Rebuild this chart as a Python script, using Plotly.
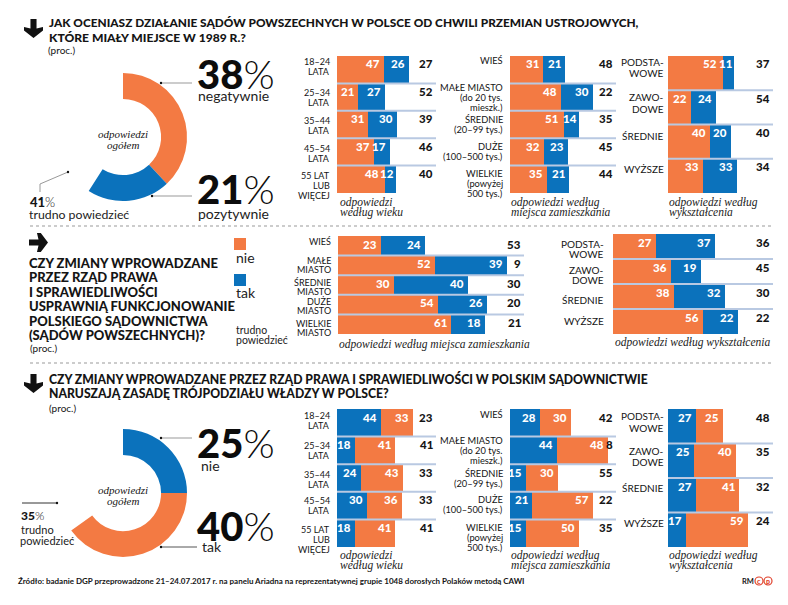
import plotly.graph_objects as go

W, H = 788, 605
ORANGE = "#F37A43"
BLUE = "#0B72BC"
SEP = "#B9C9E2"
INK = "#151515"
SANS = "Lato"
SERIF = "Liberation Serif"

# row labels
age_cats = ["18–24<br>LATA", "25–34<br>LATA", "35–44<br>LATA", "45–54<br>LATA", "55 LAT<br>LUB<br>WIĘCEJ"]
place_cats = ["WIEŚ", "MAŁE MIASTO<br>(do 20 tys.<br>mieszk.)", "ŚREDNIE<br>(20–99 tys.)", "DUŻE<br>(100–500 tys.)", "WIELKIE<br>(powyżej<br>500 tys.)"]
place_short_cats = ["WIEŚ", "MAŁE<br>MIASTO", "ŚREDNIE<br>MIASTO", "DUŻE<br>MIASTO", "WIELKIE<br>MIASTO"]
edu_cats = ["PODSTA-<br>WOWE", "ZAWO-<br>DOWE", "ŚREDNIE", "WYŻSZE"]

# question 1: negatywnie / pozytywnie / trudno powiedzieć
q1_total = [38, 21, 41]
q1_age_neg = [47, 21, 31, 37, 48]
q1_age_pos = [26, 27, 30, 17, 12]
q1_age_rest = [27, 52, 39, 46, 40]
q1_place_neg = [31, 48, 51, 32, 35]
q1_place_pos = [21, 30, 14, 23, 21]
q1_place_rest = [48, 22, 35, 45, 44]
q1_edu_neg = [52, 22, 40, 33]
q1_edu_pos = [11, 24, 20, 33]
q1_edu_rest = [37, 54, 40, 34]

# question 2: nie / tak / trudno powiedzieć
q2_place_no = [23, 52, 30, 54, 61]
q2_place_yes = [24, 39, 40, 26, 18]
q2_place_rest = [53, 9, 30, 20, 21]
q2_edu_no = [27, 36, 38, 56]
q2_edu_yes = [37, 19, 32, 22]
q2_edu_rest = [36, 45, 30, 22]

# question 3: nie / tak / trudno powiedzieć
q3_total = [25, 40, 35]
q3_age_no = [44, 18, 24, 30, 18]
q3_age_yes = [33, 41, 43, 36, 41]
q3_age_rest = [23, 41, 33, 33, 41]
q3_place_no = [28, 44, 15, 21, 15]
q3_place_yes = [30, 48, 30, 57, 50]
q3_place_rest = [42, 8, 55, 22, 35]
q3_edu_no = [27, 25, 27, 17]
q3_edu_yes = [25, 40, 41, 59]
q3_edu_rest = [48, 35, 32, 24]

fig = go.Figure()
annotations = []
shapes = []
layout_axes = {}


def fx(x):
    return x / W


def fy(y):
    return 1 - y / H


def text(x, y, s, size=12, weight=400, color=INK, family=SANS, anchor="left", italic=False):
    annotations.append(dict(
        x=fx(x), y=fy(y), xref="paper", yref="paper", text=s, showarrow=False,
        xanchor=anchor, yanchor="middle", borderpad=0,
        font=dict(size=size, weight=weight, color=color, family=family,
                  style="italic" if italic else "normal"),
    ))


def line(points, color="#777777", width=1, dot=True):
    path = "M " + " L ".join(f"{fx(x)},{fy(y)}" for x, y in points)
    shapes.append(dict(type="path", path=path, xref="paper", yref="paper",
                       line=dict(color=color, width=width)))
    if dot:
        x, y = points[0]
        shapes.append(dict(type="circle", xref="paper", yref="paper",
                           x0=fx(x - 1.2), x1=fx(x + 1.2), y0=fy(y + 1.2), y1=fy(y - 1.2),
                           fillcolor="#111111", line=dict(width=0)))


def arrow(x, y, w, h, right=False):
    # thick arrow glyph next to the headings
    if right:
        pts = [(0, .34), (.5, .34), (.42, 0), (.62, 0), (1, .5), (.62, 1), (.42, 1), (.5, .66), (0, .66)]
    else:
        pts = [(.34, 0), (.66, 0), (.66, .5), (1, .42), (1, .6), (.5, 1), (0, .6), (0, .42), (.34, .5)]
    path = "M " + " L ".join(f"{fx(x + a * w)},{fy(y + b * h)}" for a, b in pts) + " Z"
    shapes.append(dict(type="path", path=path, xref="paper", yref="paper",
                       fillcolor="#111111", line=dict(width=0)))


def panel(n, cats, first, second, rest, box, colors, label_gap, shifts, label_size=9, pitch=10, value_size=11.5):
    x0, x1, y0, y1 = box
    xa, ya = f"x{n}", f"y{n}"
    unit = (x1 - x0) / 100
    for vals, color in zip((first, second), colors):
        fig.add_trace(go.Bar(y=cats, x=vals, orientation="h", marker=dict(color=color, line=dict(width=0)),
                             xaxis=xa, yaxis=ya, showlegend=False, hoverinfo="x+y"))
    layout_axes[f"xaxis{n}"] = dict(domain=[fx(x0), fx(x1)], range=[0, 100], visible=False, fixedrange=True,
                                    anchor=ya)
    layout_axes[f"yaxis{n}"] = dict(domain=[fy(y1), fy(y0)], range=[len(cats) - 0.5, -0.5], visible=False,
                                    type="category", fixedrange=True, anchor=xa)
    for i in range(len(cats) - 1):
        shapes.append(dict(type="line", xref=f"{xa} domain", yref=ya, x0=0, x1=1, y0=i + 0.5, y1=i + 0.5,
                           line=dict(color=SEP, width=2)))
    for i, cat in enumerate(cats):
        top = i - 0.5
        # values sit near the top of each row, right aligned to their bar end
        narrow = second[i] * unit < 16
        for x, v, col, gap in ((first[i], first[i], "white", -5 if narrow else -3),
                               (first[i] + second[i], second[i], "white", -1 if narrow else -3),
                               (100, rest[i], INK, -2)):
            annotations.append(dict(x=x, y=top, xref=xa, yref=ya, text=str(v), showarrow=False,
                                    xanchor="right", yanchor="middle", xshift=gap, yshift=-8, borderpad=0,
                                    font=dict(size=value_size, weight=900, color=col, family=SANS)))
        for j, part in enumerate(cat.split("<br>")):
            annotations.append(dict(x=0, y=top, xref=xa, yref=ya, text=part, showarrow=False,
                                    xanchor="right", yanchor="middle", xshift=-label_gap,
                                    yshift=-(shifts[i] + 5 + j * pitch), borderpad=0,
                                    font=dict(size=label_size, color=INK, family=SANS)))


def donut(values, colors, cx, cy, r=64):
    fig.add_trace(go.Pie(values=values, labels=["a", "b", "c"], hole=0.595, sort=False, direction="clockwise",
                         rotation=0, textinfo="none", showlegend=False, hoverinfo="percent",
                         marker=dict(colors=colors, line=dict(width=0)),
                         domain=dict(x=[fx(cx - r), fx(cx + r)], y=[fy(cy + r), fy(cy - r)])))
    text(cx, cy - 3, "odpowiedzi", 11, family=SERIF, anchor="center", italic=True)
    text(cx, cy + 8, "ogółem", 11, family=SERIF, anchor="center", italic=True)


def big(x, y, v, size=40):
    text(x, y, f'{v}<span style="font-weight:300">%</span>', size, weight=900, color="#0c0c0c")


def caption(x, y, lines, size=11.5):
    for j, s in enumerate(lines):
        text(x, y + j * 10, s, size, family=SERIF, italic=True, color="#222222")


WHITE = "rgba(0,0,0,0)"

# --- question 1
arrow(24, 19, 19, 19)
text(48, 23, "JAK OCENIASZ DZIAŁANIE SĄDÓW POWSZECHNYCH W POLSCE OD CHWILI PRZEMIAN USTROJOWYCH,", 11.85, weight=900)
text(48, 37, "KTÓRE MIAŁY MIEJSCE W 1989 R.?", 12.1, weight=900)
text(47, 50, "(proc.)", 10)
donut(q1_total, [ORANGE, BLUE, WHITE], 123, 137)
big(196, 74, q1_total[0])
text(197, 96, "negatywnie", 14, color="#222222")
big(196, 189, q1_total[1])
text(197, 213, "pozytywnie", 14, color="#222222")
line([(161, 83), (192, 83)], "#999999")
line([(152, 196), (192, 196)], "#999999")
line([(68, 172), (40, 184), (40, 192)], "#999999")
text(29, 202, f'{q1_total[2]}<span style="font-weight:300">%</span>', 13, weight=900)
text(28, 215, "trudno powiedzieć", 12.3, color="#222222")

panel(2, age_cats, q1_age_neg, q1_age_pos, q1_age_rest, (337, 436, 56, 193), (ORANGE, BLUE), 6, [1, 4, 5, 5, 5])
panel(3, place_cats, q1_place_neg, q1_place_pos, q1_place_rest, (510, 616, 56, 193), (ORANGE, BLUE), 6, [0, -1, 4, 3, 3], label_size=9.3)
panel(4, edu_cats, q1_edu_neg, q1_edu_pos, q1_edu_rest, (668, 773, 56, 193), (ORANGE, BLUE), 3, [1, 2, 6, 5], label_size=10, pitch=11.5)
caption(339, 202, ["odpowiedzi", "według wieku"])
caption(510, 202, ["odpowiedzi według", "miejsca zamieszkania"])
caption(668, 202, ["odpowiedzi według", "wykształcenia"])

# --- question 2
arrow(29, 233, 19, 19, right=True)
q2_lines = ["CZY ZMIANY WPROWADZANE", "PRZEZ RZĄD PRAWA", "I SPRAWIEDLIWOŚCI",
            "USPRAWNIĄ FUNKCJONOWANIE", "POLSKIEGO SĄDOWNICTWA", "(SĄDÓW POWSZECHNYCH)?"]
for j, s in enumerate(q2_lines):
    text(28, 263 + j * 14.4, s, 13, weight=900)
text(29, 348, "(proc.)", 10)
shapes.append(dict(type="rect", xref="paper", yref="paper", x0=fx(234), x1=fx(246), y0=fy(250), y1=fy(238),
                   fillcolor=ORANGE, line=dict(width=0)))
text(235, 257, "nie", 14, color="#222222")
shapes.append(dict(type="rect", xref="paper", yref="paper", x0=fx(234), x1=fx(246), y0=fy(286), y1=fy(274),
                   fillcolor=BLUE, line=dict(width=0)))
text(235, 292, "tak", 14, color="#222222")
text(235, 330, "trudno", 10.5, color="#222222")
text(235, 340, "powiedzieć", 10.5, color="#222222")
panel(5, place_short_cats, q2_place_no, q2_place_yes, q2_place_rest, (338, 524, 236, 334), (ORANGE, BLUE), 6,
      [0, -0.6, 2, 2, 3.6], label_size=9, pitch=9)
panel(6, edu_cats, q2_edu_no, q2_edu_yes, q2_edu_rest, (613, 773, 234, 334), (ORANGE, BLUE), 8, [5, 6, 11, 7],
      label_size=10, pitch=10)
text(338, 344, "odpowiedzi według miejsca zamieszkania", 11.5, family=SERIF, italic=True, color="#222222")
text(614, 342, "odpowiedzi według wykształcenia", 11.5, family=SERIF, italic=True, color="#222222")

# --- question 3
arrow(24, 374, 19, 19)
text(48, 379, "CZY ZMIANY WPROWADZANE PRZEZ RZĄD PRAWA I SPRAWIEDLIWOŚCI W POLSKIM SĄDOWNICTWIE", 12.2, weight=900)
text(48, 393, "NARUSZAJĄ ZASADĘ TRÓJPODZIAŁU WŁADZY W POLSCE?", 12.2, weight=900)
text(48, 408, "(proc.)", 10)
donut(q3_total, [BLUE, ORANGE, WHITE], 123, 493)
big(196, 443, q3_total[0])
text(200, 465, "nie", 14, color="#222222")
big(196, 526, q3_total[1])
text(201, 546, "tak", 14, color="#222222")
line([(161, 438), (192, 438)], "#999999")
line([(161, 547), (197, 547)], "#555555")
line([(57, 503), (22, 503)], "#333333")
text(20, 515, f'{q3_total[2]}<span style="font-weight:300">%</span>', 12, weight=900)
text(20, 529, "trudno", 11, color="#222222")
text(19, 540, "powiedzieć", 11, color="#222222")

panel(7, age_cats, q3_age_no, q3_age_yes, q3_age_rest, (337, 436, 409, 547), (BLUE, ORANGE), 6, [1, 4, 5, 4, 5])
panel(8, place_cats, q3_place_no, q3_place_yes, q3_place_rest, (510, 616, 409, 547), (BLUE, ORANGE), 6, [0, -1, 4, 3, 3], label_size=9.3)
panel(9, edu_cats, q3_edu_no, q3_edu_yes, q3_edu_rest, (668, 773, 409, 547), (BLUE, ORANGE), 3, [2, 2, 5, 5], label_size=10, pitch=11.5)
caption(339, 555, ["odpowiedzi", "według wieku"])
caption(510, 555, ["odpowiedzi według", "miejsca zamieszkania"])
caption(668, 555, ["odpowiedzi według", "wykształcenia"])

# dotted dividers
for y in (226, 363):
    shapes.append(dict(type="line", xref="paper", yref="paper", x0=fx(30), x1=fx(771), y0=fy(y), y1=fy(y),
                       line=dict(color="#999999", width=1, dash="dot")))

# footer
text(17, 581, "Źródło: badanie DGP przeprowadzone 21–24.07.2017 r. na panelu Ariadna na reprezentatywnej grupie "
              "1048 dorosłych Polaków metodą CAWI", 8, weight=700)
text(741, 581, "RM", 7.5, weight=700)
for cx, s in ((759, "c"), (768, "p")):
    shapes.append(dict(type="circle", xref="paper", yref="paper", x0=fx(cx - 4), x1=fx(cx + 4),
                       y0=fy(585), y1=fy(577), line=dict(color="#E0402A", width=1.2)))
    text(cx, 581, s, 7, weight=900, color="#E0402A", anchor="center")

fig.update_layout(
    width=W, height=H, margin=dict(l=0, r=0, t=0, b=0), paper_bgcolor="white", plot_bgcolor="rgba(0,0,0,0)",
    barmode="stack", bargap=0, showlegend=False, annotations=annotations, shapes=shapes, **layout_axes,
)

fig.write_html("out.html", config=dict(displayModeBar=False), post_script="document.body.style.margin='0';")
